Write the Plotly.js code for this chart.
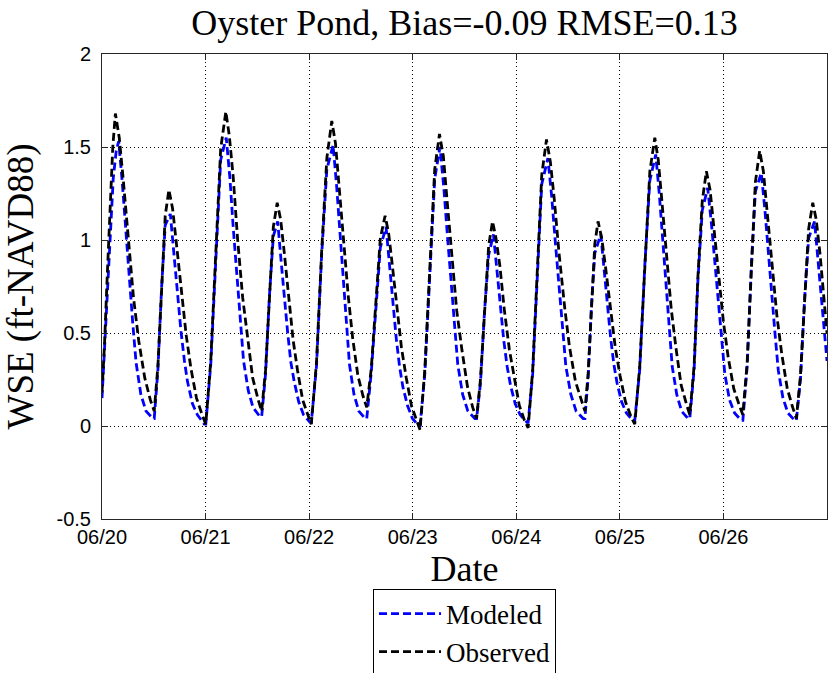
<!DOCTYPE html>
<html>
<head>
<meta charset="utf-8">
<script src="https://cdn.plot.ly/plotly-3.0.1.min.js"></script>
<style>html,body{margin:0;padding:0;background:#fff;}#chart{width:830px;height:673px;}</style>
</head>
<body>
<div id="chart"></div>
<script>
// hours since 06/20 00:00
const obsHours = [0,0.6,1.2,1.9,2.5,3.1,4.0,4.9,6.1,7.3,8.5,9.9,11.2,12.1,12.95,13.8,14.65,15.5,16.35,17.2,18.3,19.5,20.6,21.9,23.2,24.05,25.2,26.4,27.5,28.7,29.5,30.4,31.4,32.6,33.7,34.9,36.2,37.0,37.9,38.8,39.7,40.6,41.4,42.2,43.2,44.3,45.3,46.5,47.7,48.5,49.7,50.9,52.1,53.25,54.1,54.9,55.9,57.1,58.1,59.3,60.5,61.35,62.4,63.5,64.5,65.6,66.4,67.2,68.3,69.4,70.5,71.7,72.9,73.7,74.8,76.0,77.1,78.2,79.1,79.9,81.0,82.2,83.4,84.7,85.9,86.8,87.7,88.65,89.6,90.5,91.3,92.2,93.2,94.4,95.5,96.7,97.9,98.75,99.8,100.9,101.9,103.0,103.9,104.8,105.9,107.2,108.3,109.7,111.0,111.9,112.65,113.4,114.2,114.95,115.8,116.65,117.8,118.95,120.05,121.3,122.6,123.45,124.6,125.8,126.95,128.1,128.9,129.7,130.8,131.9,133.0,134.2,135.4,136.2,137.2,138.1,139.1,140.05,140.9,141.7,142.8,144.0,145.1,146.4,147.7,148.5,149.5,150.45,151.4,152.4,153.25,154.1,155.2,156.4,157.5,158.8,160.05,160.9,161.85,162.8,163.75,164.7,165.5,166.4,167.2,168.0];
const obsWse = [0.18,0.45,0.80,1.18,1.50,1.68,1.55,1.33,1.01,0.69,0.46,0.26,0.14,0.08,0.32,0.76,1.13,1.27,1.17,0.99,0.74,0.49,0.31,0.15,0.06,0.01,0.35,0.97,1.49,1.69,1.56,1.34,1.01,0.69,0.47,0.26,0.14,0.08,0.30,0.72,1.07,1.20,1.11,0.94,0.70,0.46,0.30,0.14,0.06,0.01,0.34,0.94,1.44,1.64,1.52,1.30,0.99,0.69,0.47,0.27,0.16,0.10,0.31,0.69,1.01,1.13,1.04,0.88,0.65,0.42,0.26,0.11,0.03,-0.02,0.30,0.89,1.38,1.57,1.45,1.23,0.93,0.62,0.41,0.21,0.10,0.04,0.25,0.64,0.97,1.10,1.01,0.86,0.63,0.41,0.26,0.11,0.03,-0.01,0.30,0.87,1.35,1.54,1.42,1.22,0.93,0.64,0.43,0.24,0.14,0.08,0.28,0.66,0.98,1.10,1.01,0.86,0.64,0.42,0.27,0.13,0.05,0.01,0.32,0.89,1.37,1.55,1.43,1.22,0.92,0.63,0.42,0.22,0.12,0.06,0.32,0.81,1.21,1.37,1.27,1.08,0.82,0.56,0.37,0.20,0.11,0.06,0.34,0.87,1.31,1.48,1.37,1.16,0.88,0.59,0.39,0.20,0.10,0.04,0.27,0.70,1.06,1.20,1.11,0.92,0.70,0.50];

const modHours = [0,0.6,1.2,1.9,2.6,3.3,3.87,4.7,5.5,6.3,7.1,7.9,9.0,10.2,11.8,12.1,12.95,13.8,14.65,15.83,16.7,17.5,18.3,19.1,19.8,20.95,22.1,23.7,24.05,25.2,26.4,27.5,28.79,29.65,30.4,31.2,32.0,32.8,33.9,35.0,36.6,37.0,37.9,38.8,39.7,40.71,41.53,42.28,43.03,43.78,44.53,45.58,46.7,48.2,48.5,49.7,50.9,52.1,53.55,54.37,55.11,55.86,56.6,57.35,58.39,59.51,61.0,61.35,62.4,63.5,64.5,65.82,66.66,67.42,68.19,68.95,69.72,70.79,71.93,73.46,73.7,74.8,76.0,77.1,78.32,79.21,80.02,80.82,81.63,82.44,83.57,84.78,86.4,86.8,87.7,88.65,89.6,90.7,91.55,92.33,93.1,93.88,94.65,95.74,96.9,98.45,98.75,99.8,100.9,101.9,103.32,104.22,105.04,105.86,106.67,107.49,108.64,109.86,111.5,111.9,112.65,113.4,114.2,115.58,116.4,117.14,117.88,118.62,119.36,120.4,121.52,123.0,123.45,124.6,125.8,126.95,128.31,129.13,129.88,130.63,131.38,132.13,133.18,134.3,135.8,136.2,137.2,138.1,139.1,140.35,141.21,141.99,142.76,143.54,144.32,145.41,146.58,148.14,148.5,149.5,150.45,151.4,152.77,153.62,154.39,155.17,155.94,156.71,157.79,158.95,160.5,160.9,161.85,162.8,163.75,165.11,165.93,166.68,167.43,168.0];
const modWse = [0.15,0.42,0.75,1.08,1.33,1.48,1.53,1.31,1.05,0.80,0.56,0.34,0.17,0.08,0.04,0.04,0.30,0.74,1.08,1.14,0.91,0.70,0.51,0.35,0.24,0.12,0.06,0.01,0.01,0.33,0.95,1.43,1.55,1.33,1.07,0.82,0.58,0.35,0.19,0.10,0.05,0.05,0.28,0.70,1.02,1.10,0.88,0.68,0.50,0.34,0.24,0.13,0.06,0.02,0.02,0.32,0.92,1.38,1.51,1.29,1.04,0.79,0.55,0.33,0.17,0.08,0.04,0.04,0.29,0.67,0.96,1.07,0.86,0.65,0.47,0.32,0.21,0.11,0.04,0.00,0.00,0.28,0.87,1.33,1.50,1.28,1.03,0.79,0.55,0.33,0.17,0.08,0.04,0.04,0.23,0.62,0.92,1.03,0.83,0.64,0.46,0.32,0.22,0.12,0.06,0.02,0.02,0.28,0.85,1.30,1.44,1.23,0.99,0.75,0.53,0.32,0.17,0.08,0.04,0.04,0.26,0.64,0.93,1.03,0.83,0.64,0.47,0.33,0.23,0.13,0.07,0.03,0.03,0.30,0.87,1.32,1.46,1.25,1.01,0.76,0.54,0.32,0.17,0.08,0.04,0.04,0.30,0.79,1.16,1.28,1.09,0.88,0.67,0.47,0.28,0.14,0.07,0.03,0.03,0.32,0.85,1.26,1.36,1.16,0.93,0.71,0.50,0.30,0.15,0.07,0.03,0.03,0.25,0.68,1.01,1.10,0.88,0.67,0.49,0.35];

const dayTicks = [0,24,48,72,96,120,144];
const dayLabels = ['06/20','06/21','06/22','06/23','06/24','06/25','06/26'];
const wseTicks = [-0.5,0,0.5,1,1.5,2];
const wseLabels = ['-0.5','0','0.5','1','1.5','2'];

const serif = '"Liberation Serif","Times New Roman",serif';
const sans = '"Liberation Sans",Arial,sans-serif';

const traces = [
  {x: modHours, y: modWse, type:'scatter', mode:'lines', name:'Modeled', legendgroup:'a',
   line:{color:'#0000ff', width:2.8, dash:'8px,4px'}},
  {x: obsHours, y: obsWse, type:'scatter', mode:'lines', name:'Observed', legendgroup:'b',
   line:{color:'#000000', width:2.8, dash:'8px,4px'}}
];

const axisCommon = {
  showline:true, linecolor:'#262626', linewidth:1, mirror:'ticks',
  ticks:'inside', ticklen:6, tickcolor:'#262626', automargin:false,
  showgrid:true, gridcolor:'#000', gridwidth:1, griddash:'1px,3px',
  zeroline:false, tickfont:{family:sans, size:20, color:'#000'}
};

const layout = {
  width:830, height:673,
  margin:{l:102, r:3, t:54, b:154, autoexpand:false},
  paper_bgcolor:'#fff', plot_bgcolor:'#fff',
  title:{text:'Oyster Pond, Bias=-0.09 RMSE=0.13', font:{family:serif, size:36, color:'#000'},
         x:0.5, xref:'paper', xanchor:'center', y:0.966, yref:'container', yanchor:'middle'},
  xaxis:Object.assign({}, axisCommon, {
    range:[0,168], tickmode:'array', tickvals:dayTicks, ticktext:dayLabels, ticklabelstandoff:0,
    title:{text:'Date', font:{family:serif, size:36, color:'#000'}, standoff:12}
  }),
  yaxis:Object.assign({}, axisCommon, {
    range:[-0.5,2], tickmode:'array', tickvals:wseTicks, ticktext:wseLabels, ticklabelstandoff:6,
    title:{text:'WSE (ft-NAVD88)', font:{family:serif, size:37, color:'#000'}, standoff:14}
  }),
  showlegend:true,
  legend:{x:0.5, xanchor:'center', xref:'paper', y:0.1255, yref:'container', yanchor:'top', orientation:'v',
    bordercolor:'#000', borderwidth:1, bgcolor:'#fff', itemwidth:62, tracegroupgap:0,
    font:{family:serif, size:27, color:'#000'}}
};

Plotly.newPlot('chart', traces, layout, {displayModeBar:false, staticPlot:true});
</script>
</body>
</html>
